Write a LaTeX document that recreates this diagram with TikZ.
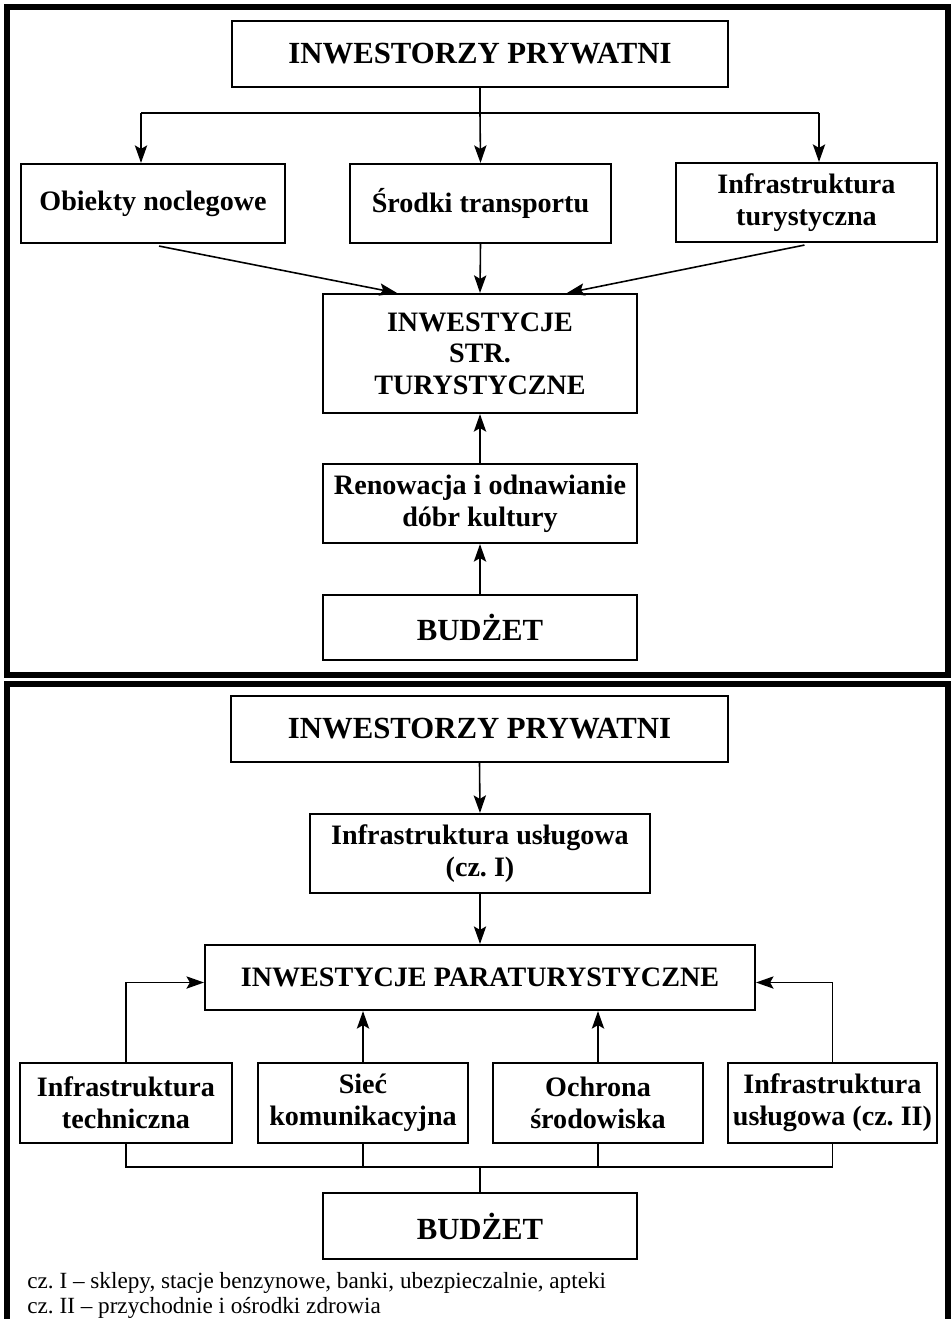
\documentclass[tikz,border=0pt]{standalone}
\usepackage{fontspec}
\setmainfont{Liberation Serif}
\usetikzlibrary{arrows.meta,calc}
\frenchspacing

\begin{document}
\begin{tikzpicture}[x=0.02cm, y=-0.02cm,
    box/.style={draw, line width=1.2pt, align=center, inner sep=1pt, font=\bfseries\fontsize{16}{18}\selectfont},
    headbox/.style={box, font=\bfseries\fontsize{17.5}{20}\selectfont},
    link/.style={line width=0.9pt},
    arr/.style={link, -{Stealth[length=10pt, width=7pt, inset=2pt]}},
    frame/.style={line width=3.4pt},
    note/.style={anchor=base west, inner sep=0pt, font=\fontsize{13.2}{15}\selectfont}]
    \clip (0,0) rectangle (951,1319);
    \draw[frame] (7,7) rectangle (948,675);
    \draw[frame] (7,1330) -- (7,684) -- (948,684) -- (948,1330);

    \node[headbox, minimum width=9.92cm, minimum height=1.32cm] (inv1) at (480,54) {INWESTORZY PRYWATNI};
    \node[box, minimum width=5.28cm, minimum height=1.58cm] (obiekty) at (153,203.5) {Obiekty noclegowe};
    \node[box, minimum width=5.22cm, minimum height=1.58cm] (srodki) at (480.5,203.5) {Środki transportu};
    \node[box, minimum width=5.22cm, minimum height=1.58cm] (infratur) at (806.5,202.5) {Infrastruktura\\turystyczna};
    \node[box, minimum width=6.28cm, minimum height=2.38cm] (str) at (480,353.5) {INWESTYCJE\\STR.\\TURYSTYCZNE};
    \node[box, minimum width=6.28cm, minimum height=1.58cm] (renow) at (480,503.5) {Renowacja i odnawianie\\dóbr kultury};
    \node[headbox, minimum width=6.28cm, minimum height=1.30cm] (bud1) at (480,627.5) {BUDŻET};

    \coordinate (splitL) at (141,113);
    \coordinate (splitR) at (819,113);
    \draw[link] (inv1.south) -- (inv1.south |- splitL);
    \draw[link] (splitL) -- (splitR);
    \draw[arr] (splitL) -- (splitL |- obiekty.north);
    \draw[arr] (inv1.south |- splitL) -- (srodki.north);
    \draw[arr] (splitR) -- (splitR |- infratur.north);
    \draw[arr] ($(obiekty.south)+(6,2)$) -- ($(str.north)+(-83,0)$);
    \draw[arr] (srodki.south) -- (str.north);
    \draw[arr] ($(infratur.south)+(-2,2)$) -- ($(str.north)+(87,0)$);
    \draw[arr] (renow.north) -- (str.south);
    \draw[arr] (bud1.north) -- (renow.south);

    \node[headbox, minimum width=9.94cm, minimum height=1.32cm] (inv2) at (479.5,729) {INWESTORZY PRYWATNI};
    \node[box, minimum width=6.8cm, minimum height=1.58cm] (usl1) at (480,853.5) {Infrastruktura usługowa\\(cz. I)};
    \node[box, minimum width=11cm, minimum height=1.30cm] (para) at (480,977.5) {INWESTYCJE PARATURYSTYCZNE};
    \node[box, minimum width=4.24cm, minimum height=1.6cm] (tech) at (126,1103) {Infrastruktura\\techniczna};
    \node[box, minimum width=4.2cm, minimum height=1.6cm] (siec) at (363,1103) {Sieć\\komunikacyjna};
    \node[box, minimum width=4.2cm, minimum height=1.6cm] (ochr) at (598,1103) {Ochrona\\środowiska};
    \node[box, minimum width=4.18cm, minimum height=1.6cm] (usl2) at (832.5,1103) {Infrastruktura\\usługowa (cz. II)};
    \node[headbox, minimum width=6.28cm, minimum height=1.32cm] (bud2) at (480,1226) {BUDŻET};

    \draw[arr] (inv2.south) -- (usl1.north);
    \draw[arr] (usl1.south) -- (para.north);
    \draw[arr] (tech.north) |- ($(para.west)+(0,5)$);
    \draw[arr] (usl2.north) |- ($(para.east)+(0,5)$);
    \draw[arr] (siec.north) -- (siec.north |- para.south);
    \draw[arr] (ochr.north) -- (ochr.north |- para.south);

    \coordinate (join) at (480,1167);
    \draw[link] (tech.south) |- (join) -| (usl2.south);
    \draw[link] (siec.south) -- (siec.south |- join);
    \draw[link] (ochr.south) -- (ochr.south |- join);
    \draw[link] (join) -- (bud2.north);

    \node[note] (note1) at (27,1288) {cz. I – sklepy, stacje benzynowe, banki, ubezpieczalnie, apteki};
    \node[note] (note2) at (27,1313) {cz. II – przychodnie i ośrodki zdrowia};
\end{tikzpicture}
\end{document}
